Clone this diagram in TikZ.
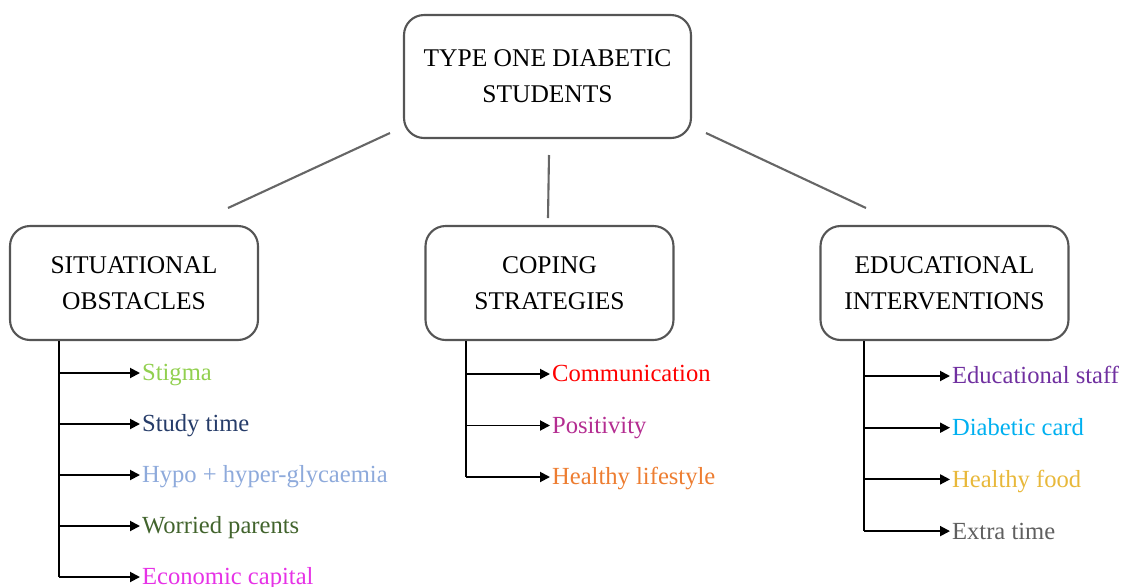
\documentclass[tikz,border=0pt]{standalone}
\usepackage{fontspec}
\setmainfont{Liberation Serif}
\usetikzlibrary{arrows.meta}
% text colours of the lists
\definecolor{boxline}{RGB}{85,85,85}
\definecolor{cstigma}{RGB}{146,208,80}
\definecolor{cstudy}{RGB}{38,60,105}
\definecolor{chypo}{RGB}{142,170,219}
\definecolor{cworry}{RGB}{66,100,45}
\definecolor{cecon}{RGB}{230,50,230}
\definecolor{ccomm}{RGB}{255,0,0}
\definecolor{cposit}{RGB}{180,45,145}
\definecolor{chealth}{RGB}{237,125,49}
\definecolor{cstaff}{RGB}{112,48,160}
\definecolor{ccard}{RGB}{0,176,240}
\definecolor{cfood}{RGB}{232,184,58}
\definecolor{cextra}{RGB}{95,95,95}
\begin{document}
\begin{tikzpicture}[x=0.02cm,y=-0.02cm,
	box/.style={draw=boxline,line width=1.2pt,rounded corners=0.4cm,align=center,
		minimum width=4.96cm,minimum height=2.28cm,
		font=\fontsize{14.5}{20.5}\selectfont},
	link/.style={draw=boxline!90,line width=1.2pt},
	item/.style={anchor=west,inner sep=0pt,inner xsep=1pt,text height=11pt,text depth=2pt,
		font=\fontsize{14}{16}\selectfont},
	arr/.style={line width=1.1pt,-{Triangle[length=0.2cm,width=0.2cm]}}]
	\useasboundingbox (0,0) rectangle (1134,586);
	% boxes
	\node[box,minimum width=5.74cm,minimum height=2.46cm] (top) at (547.5,76.5) {TYPE ONE DIABETIC\\STUDENTS};
	\node[box] (sit) at (134,283) {SITUATIONAL\\OBSTACLES};
	\node[box] (cop) at (549.5,283) {COPING\\STRATEGIES};
	\node[box] (edu) at (944.5,283) {EDUCATIONAL\\INTERVENTIONS};
	% lines between the boxes
	\coordinate (l1) at (390,133);
	\coordinate (l2) at (228,208);
	\coordinate (m1) at (549,155);
	\coordinate (m2) at (548,218);
	\coordinate (r1) at (706,133);
	\coordinate (r2) at (866,208);
	\draw[link] (l1) -- (l2);
	\draw[link] (m1) -- (m2);
	\draw[link] (r1) -- (r2);
	% situational obstacles
	\coordinate (st) at ([xshift=1cm]sit.south west);
	\foreach \t/\c [count=\i] in {Stigma/cstigma,Study time/cstudy,Hypo + hyper-glycaemia/chypo,Worried parents/cworry,Economic capital/cecon}{
		\node[item,text=\c] (s\i) at (140,{373+51*(\i-1)}) {\t};
		\draw[arr] (st |- s\i.west) -- (s\i.west);
	}
	\draw[line width=1.1pt] (st) -- (st |- s5.west);
	% coping strategies
	\coordinate (ct) at ([xshift=0.84cm]cop.south west);
	\foreach \t/\c [count=\i] in {Communication/ccomm,Positivity/cposit,Healthy lifestyle/chealth}{
		\node[item,text=\c] (c\i) at (550,{374+51.5*(\i-1)}) {\t};
		\draw[arr] (ct |- c\i.west) -- (c\i.west);
	}
	\draw[line width=1.1pt] (ct) -- (ct |- c3.west);
	% educational interventions
	\coordinate (et) at ([xshift=0.9cm]edu.south west);
	\foreach \t/\c [count=\i] in {Educational staff/cstaff,Diabetic card/ccard,Healthy food/cfood,Extra time/cextra}{
		\node[item,text=\c] (e\i) at (950,{376+51.7*(\i-1)}) {\t};
		\draw[arr] (et |- e\i.west) -- (e\i.west);
	}
	\draw[line width=1.1pt] (et) -- (et |- e4.west);
\end{tikzpicture}
\end{document}
